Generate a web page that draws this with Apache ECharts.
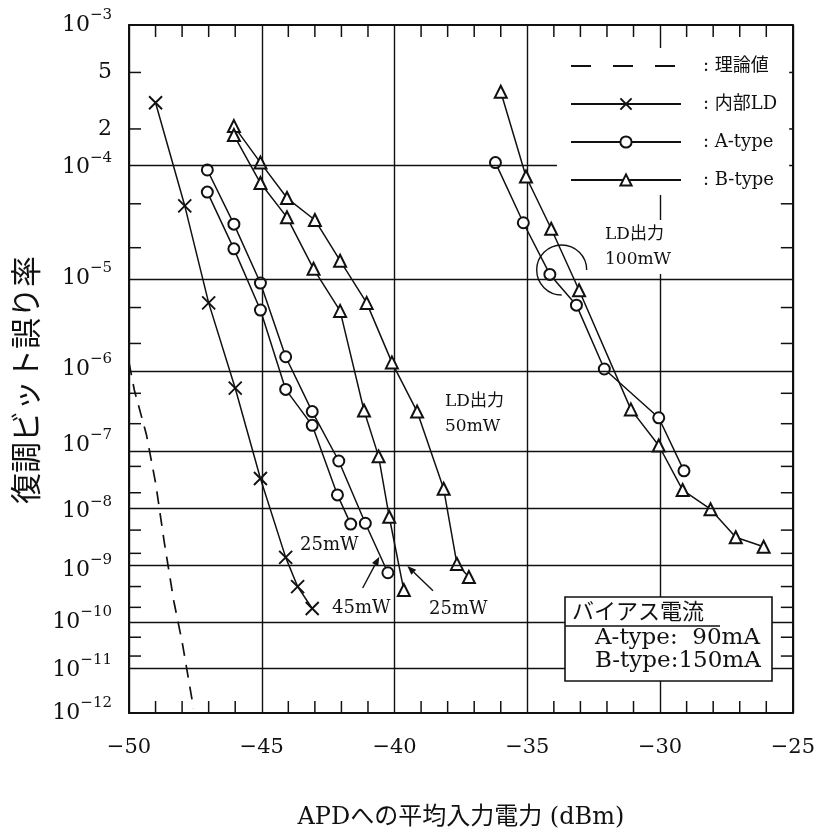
<!DOCTYPE html>
<html><head><meta charset="utf-8">
<script src="https://cdn.jsdelivr.net/npm/echarts@6/dist/echarts.min.js"></script>
<style>html,body{margin:0;padding:0;background:#fff}#c{width:818px;height:835px}</style>
</head><body><div id="c"></div>
<script>
// ---- axis definitions ----
const xMin = -50, xMax = -25, xStep = 5, xMinorStep = 1;
const yDecadeExps = [-3, -4, -5, -6, -7, -8, -9, -10, -11, -12];
const yMinorMantissas = [5, 2];
const yLabelMantissas = [5, 2];   // labelled only in the top decade

// ---- data (x: dBm, y: bit error rate) ----
const theoryX   = [-50.0, -49.8, -49.34, -48.99, -48.68, -48.31, -48.0, -47.57];
const theoryBer = [1.2e-6, 5.5e-7, 1.4e-7, 2.7e-8, 3.3e-9, 2.6e-10, 4e-11, 1.3e-12];

const ldX   = [-49.0, -47.9, -47.0, -46.0, -45.05, -44.1, -43.65, -43.1];
const ldBer = [3.1e-4, 4.8e-5, 5.6e-6, 5.8e-7, 3.3e-8, 1.7e-9, 5e-10, 1.9e-10];

const a45X   = [-47.05, -46.05, -45.05, -44.1, -43.1, -42.1, -41.1, -40.25];
const a45Ber = [9.6e-5, 3.3e-5, 9e-6, 1.4e-6, 2.9e-7, 6e-8, 6.5e-9, 9e-10];
const a25X   = [-47.05, -46.05, -45.05, -44.1, -43.1, -42.15, -41.65];
const a25Ber = [6.3e-5, 1.95e-5, 4.7e-6, 5.6e-7, 1.9e-7, 1.85e-8, 6.3e-9];
const a100X   = [-36.2, -35.15, -34.15, -33.15, -32.1, -30.05, -29.1];
const a100Ber = [1.1e-4, 3.4e-5, 1.1e-5, 5.3e-6, 1e-6, 2.4e-7, 4.3e-8];

const b50X   = [-46.05, -45.05, -44.05, -43.0, -42.05, -41.05, -40.1, -39.15, -38.15, -37.65, -37.2];
const b50Ber = [2.1e-4, 1.1e-4, 5.6e-5, 3.6e-5, 1.5e-5, 5.6e-6, 1.2e-6, 2.9e-7, 2.3e-8, 1.3e-9, 7.5e-10];
const b25X   = [-46.05, -45.05, -44.05, -43.05, -42.05, -41.15, -40.6, -40.2, -39.65];
const b25Ber = [1.8e-4, 7.5e-5, 3.8e-5, 1.25e-5, 4.6e-6, 3e-7, 7e-8, 8.3e-9, 4.3e-10];
const b100X   = [-36.0, -35.05, -34.1, -33.05, -31.1, -30.05, -29.15, -28.1, -27.15, -26.1];
const b100Ber = [3.7e-4, 8.5e-5, 3e-5, 7.6e-6, 3.1e-7, 1e-7, 2.2e-8, 1.1e-8, 3.8e-9, 2.6e-9];

const legendNames = ['理論値', '内部LD', 'A-type', 'B-type'];

// ---- probability scale: t = log10(-log10(p)) ----
const T = p => Math.log10(-Math.log10(p));
const pair = (xs, ps) => xs.map((x, i) => [x, T(ps[i])]);

const serif = "'DejaVu Serif', 'Noto Sans CJK JP', serif";
const cjk = "'Noto Sans CJK JP', sans-serif";
const ink = '#111';
const tickLen = 12;

const decadeVals = yDecadeExps.map(k => T(Math.pow(10, k)));
const yMinorVals = [];
yDecadeExps.slice(0, -1).forEach(k => yMinorMantissas.forEach(m => yMinorVals.push(T(m * Math.pow(10, k)))));
const labelVals = decadeVals.concat(yLabelMantissas.map(m => T(m * Math.pow(10, yDecadeExps[0] - 1))));
const xMinorVals = [];
for (let v = xMin + xMinorStep; v < xMax; v += xMinorStep) if (v % xStep !== 0) xMinorVals.push(v);

function yLabel(v) {
  const e = -Math.pow(10, v);
  const k = Math.round(e);
  if (Math.abs(e - k) < 1e-6) return '{b|10}{s|−' + (-k) + '}';
  const m = Math.round(Math.pow(10, e - Math.floor(e)));
  return '{b|' + m + '}';
}

const xBase = {
  type: 'value', min: xMin, max: xMax, interval: xStep,
  axisLine: { show: true, onZero: false, lineStyle: { color: ink, width: 2 } },
  axisTick: { show: false }
};
const yBase = {
  type: 'value', min: T(1e-3), max: T(1e-12), inverse: true,
  axisLine: { show: true, onZero: false, lineStyle: { color: ink, width: 2 } },
  axisTick: { show: false },
  splitLine: { show: false }
};

function curve(name, xs, ps, symbol, size, extra) {
  return Object.assign({
    type: 'line', name: name, data: pair(xs, ps), symbol: symbol, symbolSize: size,
    showAllSymbol: true, animation: false, z: 3,
    lineStyle: { color: ink, width: 1.5, type: 'solid' },
    itemStyle: { color: ink, borderColor: ink, borderWidth: 1.5 },
    emphasis: { disabled: true }
  }, extra || {});
}

const crossSym = 'path://M0,0L10,10M10,0L0,10';

// inward ticks on all four sides, placed through the axes' own scales
function tickSeries(data, vertical) {
  return {
    type: 'custom', name: '_ticks', silent: true, animation: false, z: 4, clip: false,
    data: data,
    renderItem: function (params, api) {
      const cs = params.coordSys;
      const p = api.coord([api.value(0), api.value(1)]);
      const st = { stroke: ink, lineWidth: 1.5 };
      if (vertical) {
        return { type: 'group', children: [
          { type: 'line', shape: { x1: p[0], y1: cs.y, x2: p[0], y2: cs.y + tickLen }, style: st },
          { type: 'line', shape: { x1: p[0], y1: cs.y + cs.height, x2: p[0], y2: cs.y + cs.height - tickLen }, style: st }
        ] };
      }
      return { type: 'group', children: [
        { type: 'line', shape: { x1: cs.x, y1: p[1], x2: cs.x + tickLen, y2: p[1] }, style: st },
        { type: 'line', shape: { x1: cs.x + cs.width, y1: p[1], x2: cs.x + cs.width - tickLen, y2: p[1] }, style: st }
      ] };
    }
  };
}

const series = [
  curve('理論値', theoryX, theoryBer, 'none', 0, {
    lineStyle: { color: ink, width: 1.7, type: [13, 9] },
    markLine: {
      silent: true, symbol: ['none', 'none'], label: { show: false }, animation: false,
      lineStyle: { color: ink, width: 1.4, type: 'solid' },
      data: decadeVals.slice(1, -1).map(v => ({ yAxis: v }))
    }
  }),
  curve('内部LD', ldX, ldBer, crossSym, 13, { itemStyle: { color: ink, borderColor: ink, borderWidth: 1.9 } }),
  curve('A-type', a45X, a45Ber, 'emptyCircle', 11),
  curve('A-type', a25X, a25Ber, 'emptyCircle', 11),
  curve('A-type', a100X, a100Ber, 'emptyCircle', 11),
  curve('B-type', b50X, b50Ber, 'emptyTriangle', 12),
  curve('B-type', b25X, b25Ber, 'emptyTriangle', 12),
  curve('B-type', b100X, b100Ber, 'emptyTriangle', 12),
  tickSeries(xMinorVals.map(v => [v, T(1e-3)]), true),
  tickSeries(yMinorVals.map(v => [xMin, v]), false)
];

function arrow(x1, y1, x2, y2) {
  const a = Math.atan2(y2 - y1, x2 - x1), L = 9, W = 3.5;
  const bx = x2 - L * Math.cos(a), by = y2 - L * Math.sin(a);
  return [
    { type: 'line', z: 60, shape: { x1: x1, y1: y1, x2: bx, y2: by }, style: { stroke: ink, lineWidth: 1.4 } },
    { type: 'polygon', z: 60, shape: { points: [[x2, y2], [bx - W * Math.sin(a), by + W * Math.cos(a)], [bx + W * Math.sin(a), by - W * Math.cos(a)]] }, style: { fill: ink } }
  ];
}
function txt(x, y, s, font, size, extra) {
  return { type: 'text', x: x, y: y, z: 60, style: Object.assign({ text: s, fontFamily: font, fontSize: size, fill: ink, align: 'left', verticalAlign: 'middle' }, extra || {}) };
}

const graphics = [
  txt(603, 247, 'LD出力\n100mW', serif, 17, { lineHeight: 25, backgroundColor: '#fff', padding: [2, 5, 2, 2] }),
  txt(445, 414, 'LD出力\n50mW', serif, 17, { lineHeight: 25 }),
  txt(300, 545, '25mW', serif, 18),
  txt(332, 608, '45mW', serif, 18),
  txt(429, 609, '25mW', serif, 18),
  { type: 'arc', z: 60, shape: { cx: 561.7, cy: 270, r: 25, startAngle: Math.PI / 2, endAngle: Math.PI * 2, clockwise: true }, style: { stroke: ink, fill: 'none', lineWidth: 1.4 } },
  { type: 'rect', z: 70, shape: { x: 565, y: 597, width: 207, height: 84 }, style: { fill: '#fff', stroke: ink, lineWidth: 1.6 } },
  { type: 'line', z: 71, shape: { x1: 565, y1: 626, x2: 720, y2: 626 }, style: { stroke: ink, lineWidth: 1.3 } },
  Object.assign(txt(572, 611, 'バイアス電流', cjk, 22), { z: 71 }),
  Object.assign(txt(595, 638, 'A-type:  90mA', serif, 23), { z: 71 }),
  Object.assign(txt(595, 661, 'B-type:150mA', serif, 23), { z: 71 })
].concat(arrow(362.7, 588, 379.3, 556.7), arrow(433, 590.7, 407.3, 566));

const option = {
  animation: false,
  backgroundColor: '#fff',
  grid: { left: 129, right: 15, top: 25, bottom: 122, containLabel: false },
  legend: {
    data: [{ name: legendNames[0],
             itemStyle: { color: 'rgba(0,0,0,0)', borderColor: 'rgba(0,0,0,0)', borderWidth: 0 },
             lineStyle: { color: ink, width: 1.8, type: [20, 22] } }]
      .concat(legendNames.slice(1)),
    orient: 'vertical', left: 557, top: 48,
    padding: [8, 12, 5, 13], itemGap: 18, itemWidth: 110, itemHeight: 14,
    backgroundColor: '#fff', selectedMode: false, z: 10,
    formatter: n => ': ' + n,
    textStyle: { fontFamily: serif, fontSize: 18, lineHeight: 20, color: ink, padding: [0, 0, 0, 17] }
  },
  xAxis: [
    Object.assign({}, xBase, {
      position: 'bottom',
      splitLine: { show: true, lineStyle: { color: ink, width: 1.4 } },
      axisLabel: { show: true, margin: 24, fontFamily: serif, fontSize: 21, color: ink, showMinLabel: true, showMaxLabel: true,
        formatter: v => (v < 0 ? '−' + (-v) : String(v)) },
      name: 'APDへの平均入力電力 (dBm)', nameLocation: 'middle', nameGap: 93,
      nameTextStyle: { fontFamily: serif, fontSize: 24, color: ink }
    }),
    Object.assign({}, xBase, { position: 'top', splitLine: { show: false }, axisLabel: { show: false } })
  ],
  yAxis: [
    Object.assign({}, yBase, {
      position: 'left',
      axisLabel: { show: true, customValues: labelVals, margin: 17, formatter: yLabel, color: ink,
        rich: { b: { fontFamily: serif, fontSize: 22, color: ink }, s: { fontFamily: serif, fontSize: 15, color: ink, padding: [0, 0, 20, 0] } } },
      name: '復調ビット誤り率', nameLocation: 'middle', nameGap: 88,
      nameTextStyle: { fontFamily: cjk, fontSize: 31, color: ink, padding: [0, 22, 0, 0] }
    }),
    Object.assign({}, yBase, { position: 'right', axisLabel: { show: false } })
  ],
  graphic: graphics,
  series: series
};

const chart = echarts.init(document.getElementById('c'));
chart.setOption(option);
</script>
</body></html>
